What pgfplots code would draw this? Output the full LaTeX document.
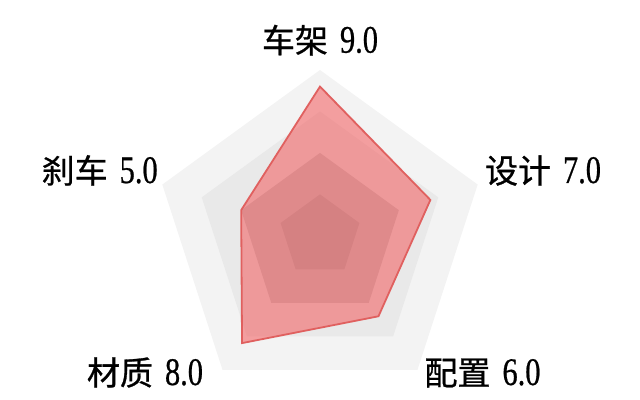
\documentclass[border=0pt]{standalone}
\usepackage{fontspec}
\setmainfont{Liberation Serif}
\newfontfamily\cjk[FakeBold=0.8]{Noto Sans CJK SC}
\newfontfamily\digits[FakeStretch=0.78, FakeBold=0.6]{Liberation Serif}
\usepackage{pgfplots}
\pgfplotsset{compat=1.18}
\usepgfplotslibrary{polar}

\definecolor{ring1}{HTML}{F3F3F3}
\definecolor{ring2}{HTML}{E9E9E9}
\definecolor{ring3}{HTML}{CBCBCB}
\definecolor{ring4}{HTML}{B8B8B8}
\definecolor{radarfill}{HTML}{F34B4D}
\definecolor{radarline}{HTML}{E0605F}

\newcommand{\lbl}[2]{{\cjk\fontsize{33bp}{40bp}\selectfont #1}\hspace{12bp}{\digits\fontsize{39bp}{44bp}\selectfont #2}}

\begin{document}
\begin{tikzpicture}
\useasboundingbox (0,0) rectangle (640bp,400bp);
\begin{polaraxis}[
	scale only axis,
	width=331.6bp,
	at={(320bp,164.2bp)}, anchor=origin,
	hide axis,
	clip=false,
	xmin=0, xmax=360,
	ymin=0, ymax=10]

	% background rings (angle, radius)
	\addplot[draw=none, fill=ring1] coordinates {(90,10)(18,10)(306,10)(234,10)(162,10)} -- cycle;
	\addplot[draw=none, fill=ring2] coordinates {(90,7.5)(18,7.5)(306,7.5)(234,7.5)(162,7.5)} -- cycle;
	\addplot[draw=none, fill=ring3] coordinates {(90,5)(18,5)(306,5)(234,5)(162,5)} -- cycle;
	\addplot[draw=none, fill=ring4] coordinates {(90,2.5)(18,2.5)(306,2.5)(234,2.5)(162,2.5)} -- cycle;

	% scores: 车架, 设计, 配置, 材质, 刹车
	\addplot[draw=radarline, line width=1.8bp, line join=miter, fill=radarfill, fill opacity=0.5]
	coordinates {(90,9.0)(18,7.0)(306,6.0)(234,8.0)(162,5.0)} -- cycle;

\end{polaraxis}
\begin{scope}[every node/.style={anchor=base, inner sep=0pt}]
	\node at (320bp,347.3bp) {\lbl{车架}{9.0}};
	\node at (543bp,217bp) {\lbl{设计}{7.0}};
	\node at (482.5bp,15bp) {\lbl{配置}{6.0}};
	\node at (145bp,15bp) {\lbl{材质}{8.0}};
	\node at (99.7bp,217bp) {\lbl{刹车}{5.0}};
\end{scope}
\end{tikzpicture}
\end{document}
